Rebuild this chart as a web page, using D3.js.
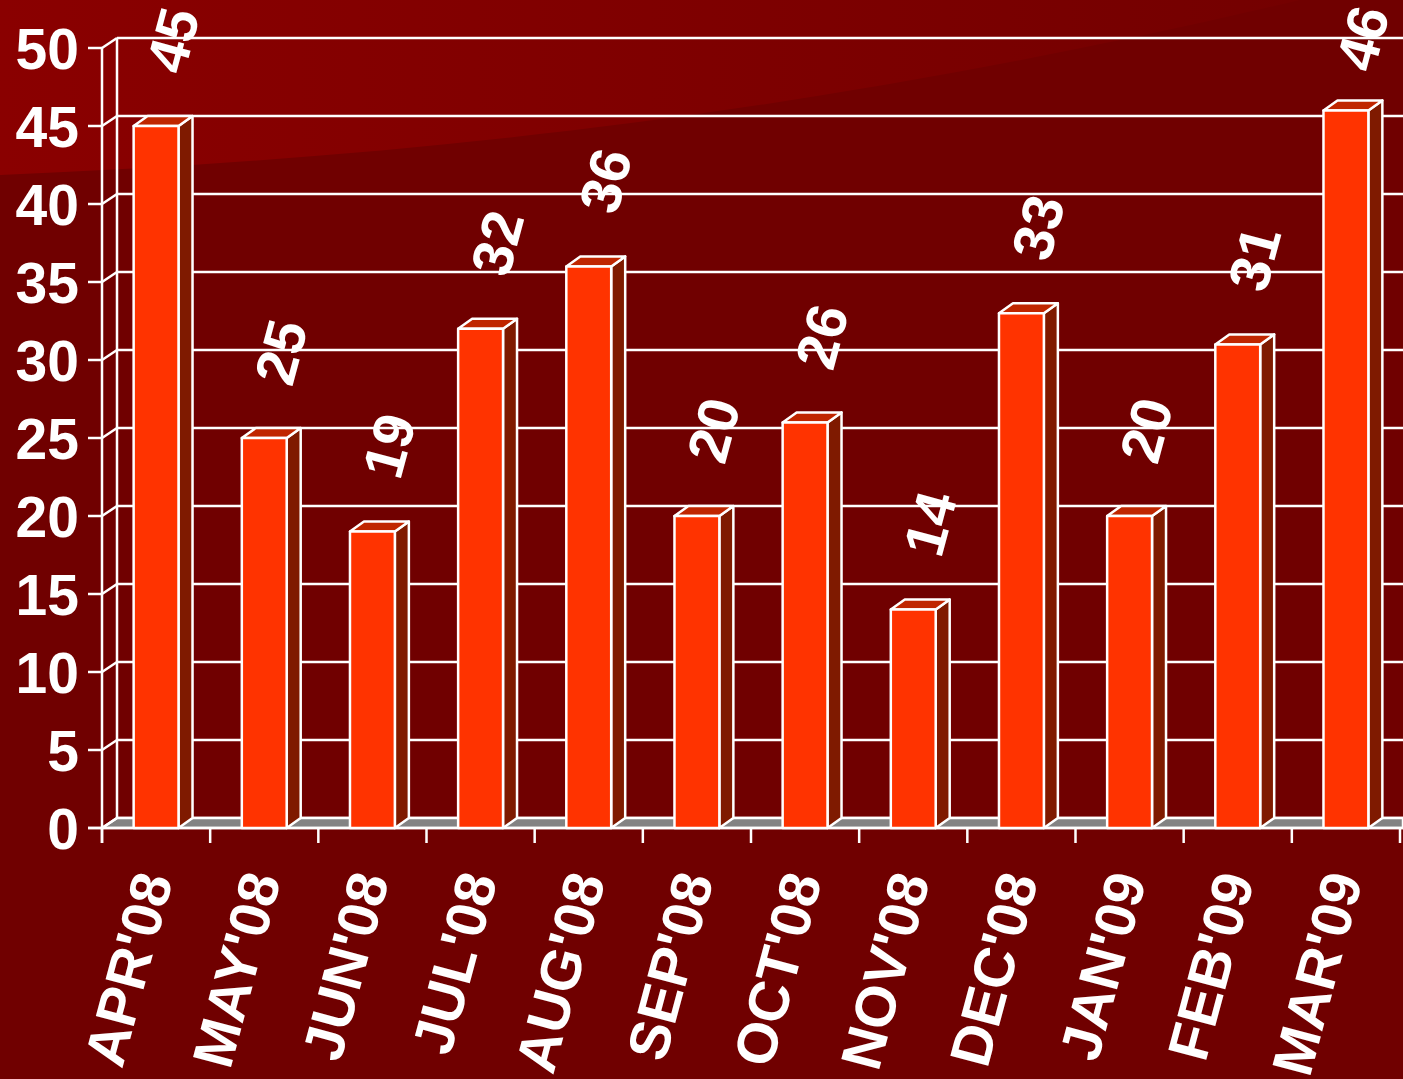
<!DOCTYPE html>
<html>
<head>
<meta charset="utf-8">
<script src="https://cdn.jsdelivr.net/npm/d3@7"></script>
<style>
  html, body { margin: 0; padding: 0; background: #700000; }
  svg { display: block; }
  text { font-family: "Liberation Sans", Arial, sans-serif; font-weight: bold; fill: #fff; }
</style>
</head>
<body>
<div id="chartContainer"></div>
<script>
// data
var months = ["APR'08", "MAY'08", "JUN'08", "JUL'08", "AUG'08", "SEP'08",
              "OCT'08", "NOV'08", "DEC'08", "JAN'09", "FEB'09", "MAR'09"];
var counts = [45, 25, 19, 32, 36, 20, 26, 14, 33, 20, 31, 46];
var yTicks = [0, 5, 10, 15, 20, 25, 30, 35, 40, 45, 50];

var W = 1403, H = 1079;
var wallDx = 15, wallDy = 10;   // depth of the 3D wall
var barDx = 14, barDy = 10;     // depth of each bar

var svg = d3.select("#chartContainer")
    .append("svg")
    .attr("width", W)
    .attr("height", H);

// background with the lighter wedge top-left
var defs = svg.append("defs");
var grad = defs.append("linearGradient")
    .attr("id", "wedge")
    .attr("x1", "0%").attr("x2", "100%").attr("y1", "0%").attr("y2", "0%");
grad.append("stop").attr("offset", "0%").attr("stop-color", "#8a0000");
grad.append("stop").attr("offset", "100%").attr("stop-color", "#740000");

svg.append("rect").attr("width", W).attr("height", H).attr("fill", "#700000");
svg.append("path")
    .attr("d", "M0,0 L0,175 C400,158 800,118 1300,0 Z")
    .attr("fill", "url(#wedge)");

var xScale = d3.scaleBand()
    .domain(months)
    .range([102, 1400])
    .paddingInner(0)
    .paddingOuter(0);

var yScale = d3.scaleLinear()
    .domain([0, 50])
    .range([828, 48]);

var barW = xScale.bandwidth() * 0.415;

// back wall gridlines
var wall = svg.append("g");
wall.selectAll("line.grid")
    .data(yTicks)
    .join("line")
    .attr("x1", 102 + wallDx)
    .attr("x2", W)
    .attr("y1", d => yScale(d) - wallDy)
    .attr("y2", d => yScale(d) - wallDy)
    .attr("stroke", "#fff")
    .attr("stroke-width", 2.5);

// wall left edge
wall.append("line")
    .attr("x1", 102 + wallDx).attr("x2", 102 + wallDx)
    .attr("y1", yScale(50) - wallDy).attr("y2", yScale(0) - wallDy)
    .attr("stroke", "#fff").attr("stroke-width", 2.5);

// floor
svg.append("path")
    .attr("d", "M102," + yScale(0) + " L" + (102 + wallDx) + "," + (yScale(0) - wallDy) +
               " L" + W + "," + (yScale(0) - wallDy) + " L" + W + "," + yScale(0) + " Z")
    .attr("fill", "#838383")
    .attr("stroke", "#fff")
    .attr("stroke-width", 2.5)
    .attr("stroke-linejoin", "round");

// y axis: front line, ticks and diagonal connectors
var yAx = svg.append("g");
yAx.append("line")
    .attr("x1", 102).attr("x2", 102)
    .attr("y1", yScale(50)).attr("y2", yScale(0) + 15)
    .attr("stroke", "#fff").attr("stroke-width", 2.5);
yAx.selectAll("line.tick")
    .data(yTicks)
    .join("line")
    .attr("class", "tick")
    .attr("x1", 88).attr("x2", 102)
    .attr("y1", d => yScale(d)).attr("y2", d => yScale(d))
    .attr("stroke", "#fff").attr("stroke-width", 2.5);
yAx.selectAll("line.diag")
    .data(yTicks)
    .join("line")
    .attr("class", "diag")
    .attr("x1", 102).attr("x2", 102 + wallDx)
    .attr("y1", d => yScale(d)).attr("y2", d => yScale(d) - wallDy)
    .attr("stroke", "#fff").attr("stroke-width", 2.5);
yAx.selectAll("text")
    .data(yTicks)
    .join("text")
    .attr("x", 79)
    .attr("y", d => yScale(d))
    .attr("dy", "0.36em")
    .attr("text-anchor", "end")
    .style("font-size", "57px")
    .text(d => d);

// front floor line and x ticks
svg.append("line")
    .attr("x1", 88).attr("x2", W)
    .attr("y1", yScale(0)).attr("y2", yScale(0))
    .attr("stroke", "#fff").attr("stroke-width", 2.5);
var bounds = months.map(m => xScale(m)).concat([xScale.range()[1]]);
svg.selectAll("line.xtick")
    .data(bounds)
    .join("line")
    .attr("class", "xtick")
    .attr("x1", d => d).attr("x2", d => d)
    .attr("y1", yScale(0)).attr("y2", yScale(0) + 15)
    .attr("stroke", "#fff").attr("stroke-width", 2.5);

// 3D bars
var bars = svg.append("g")
    .selectAll("g")
    .data(months.map((m, i) => ({month: m, value: counts[i]})))
    .join("g")
    .attr("stroke", "#fff")
    .attr("stroke-width", 2.5)
    .attr("stroke-linejoin", "round");

function x0(d) { return xScale(d.month) + xScale.bandwidth() / 2 - barW / 2; }

// side face
bars.append("path")
    .attr("fill", "#7f1a00")
    .attr("d", function(d){
        var x = x0(d) + barW, yt = yScale(d.value), yb = yScale(0);
        return "M" + x + "," + yb + " L" + x + "," + yt + " L" + (x + barDx) + "," + (yt - barDy) +
               " L" + (x + barDx) + "," + (yb - barDy) + " Z";
    });
// top face
bars.append("path")
    .attr("fill", "#c02600")
    .attr("d", function(d){
        var x = x0(d), yt = yScale(d.value);
        return "M" + x + "," + yt + " L" + (x + barDx) + "," + (yt - barDy) + " L" + (x + barW + barDx) + "," + (yt - barDy) +
               " L" + (x + barW) + "," + yt + " Z";
    });
// front face
bars.append("rect")
    .attr("fill", "#ff3300")
    .attr("x", d => x0(d))
    .attr("y", d => yScale(d.value))
    .attr("width", barW)
    .attr("height", d => yScale(0) - yScale(d.value));

// value labels (rotated), kept inside the picture at the top
svg.append("g")
    .selectAll("text")
    .data(months.map((m, i) => ({month: m, value: counts[i]})))
    .join("text")
    .attr("transform", d => "translate(" + (xScale(d.month) + xScale.bandwidth() / 2 + 16) + "," +
                                 Math.max(38, yScale(d.value) - 86) + ") rotate(-75)")
    .attr("text-anchor", "middle")
    .attr("dy", "0.36em")
    .style("font-size", "57px")
    .text(d => d.value);

// category labels (rotated)
svg.append("g")
    .selectAll("text")
    .data(months)
    .join("text")
    .attr("transform", d => "translate(" + (xScale(d) + xScale.bandwidth() / 2 + 17) + ",879) rotate(-75)")
    .attr("text-anchor", "end")
    .style("font-size", "57px")
    .text(d => d);
</script>
</body>
</html>
